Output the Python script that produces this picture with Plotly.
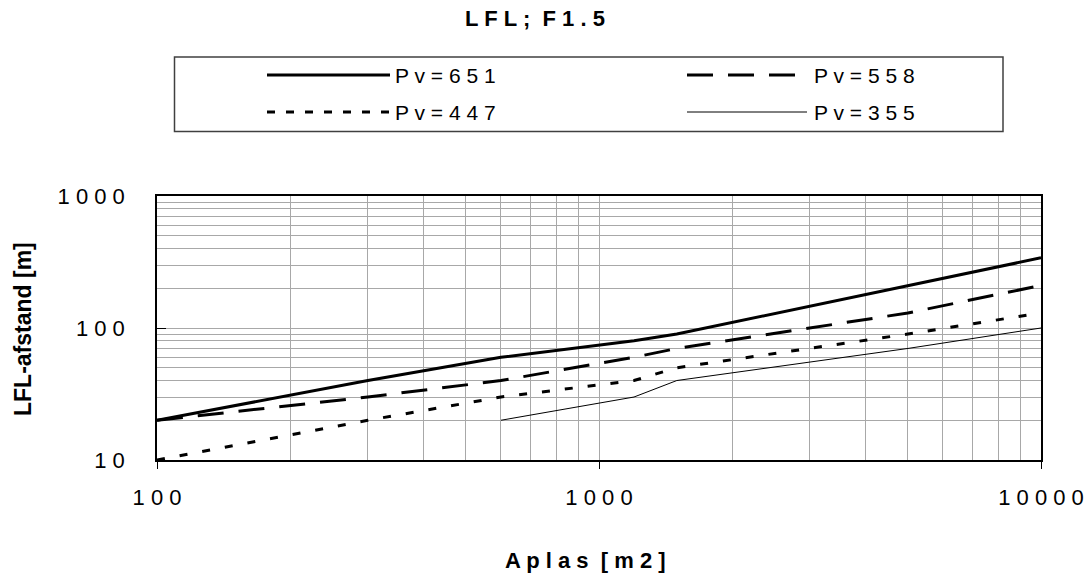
import plotly.graph_objects as go

# ---------------- data ----------------
x_651 = [100, 300, 600, 1200, 1500, 5000, 10000]
y_651 = [20, 40, 60, 80, 90, 210, 340]

x_558 = [100, 300, 600, 1200, 1500, 5000, 10000]
y_558 = [20, 30, 40, 60, 70, 130, 210]

x_447 = [100, 300, 600, 1200, 1500, 5000, 10000]
y_447 = [10, 20, 30, 40, 50, 90, 130]

x_355 = [600, 1200, 1500, 5000, 10000]
y_355 = [20, 30, 40, 70, 100]

series_names = ["P v = 6 5 1", "P v = 5 5 8", "P v = 4 4 7", "P v = 3 5 5"]
x_ticks = [100, 1000, 10000]
x_ticktext = ["1 0 0", "1 0 0 0", "1 0 0 0 0"]
y_ticks = [10, 100, 1000]
y_ticktext = ["1 0", "1 0 0", "1 0 0 0"]

title_text = "L F L ;  F 1 . 5"
x_title = "A p l a s  [ m 2 ]"
y_title = "LFL-afstand [m]"

# ---------------- layout geometry (pixels) ----------------
W, H = 1090, 579
PL, PR, PT, PB = 157, 1041, 196, 460  # plot area


def xp(px):
    return (px - PL) / (PR - PL)


def yp(py):
    return (PB - py) / (PB - PT)


FONT = "Liberation Sans, Arial, sans-serif"
GRID = "#a8a8a8"

styles = [
    dict(color="black", width=3, dash="solid"),
    dict(color="black", width=3, dash="26px,15px"),
    dict(color="black", width=3, dash="8px,15px"),
    dict(color="black", width=1, dash="solid"),
]

fig = go.Figure()
for (xs, ys), name, st in zip(
    [(x_651, y_651), (x_558, y_558), (x_447, y_447), (x_355, y_355)],
    series_names,
    styles,
):
    fig.add_trace(
        go.Scatter(x=xs, y=ys, mode="lines", name=name, line=st, showlegend=False)
    )

minor_x = [m * 10 ** e for e in (2, 3) for m in range(2, 10)]
minor_y = [m * 10 ** e for e in (1, 2) for m in range(2, 10)]

fig.update_layout(
    width=W,
    height=H,
    autosize=False,
    margin=dict(l=PL, r=W - PR, t=PT, b=H - PB, pad=0, autoexpand=False),
    paper_bgcolor="white",
    plot_bgcolor="white",
    font=dict(family=FONT, color="black", size=22),
    title=dict(
        text="<b>" + title_text + "</b>",
        x=535 / W,
        xanchor="center",
        y=1 - 18.5 / H,
        yanchor="middle",
        xref="container",
        yref="container",
        font=dict(family=FONT, size=22, color="black"),
    ),
    xaxis=dict(
        type="log",
        range=[2, 4],
        automargin=False,
        tickvals=x_ticks,
        ticktext=x_ticktext,
        ticks="outside",
        ticklen=7,
        tickcolor="black",
        tickwidth=1,
        ticklabelstandoff=10,
        showline=True,
        linecolor="black",
        linewidth=1.5,
        mirror=True,
        showgrid=True,
        gridcolor=GRID,
        gridwidth=1,
        minor=dict(tickvals=minor_x, showgrid=True, gridcolor=GRID, gridwidth=1, ticks=""),
        zeroline=False,
        tickfont=dict(family=FONT, size=22),
    ),
    yaxis=dict(
        type="log",
        range=[1, 3],
        automargin=False,
        tickvals=y_ticks,
        ticktext=y_ticktext,
        ticks="inside",
        ticklen=9,
        tickcolor="black",
        tickwidth=1,
        ticklabelstandoff=26,
        showline=True,
        linecolor="black",
        linewidth=1.5,
        mirror=True,
        showgrid=True,
        gridcolor=GRID,
        gridwidth=1,
        minor=dict(tickvals=minor_y, showgrid=True, gridcolor=GRID, gridwidth=1, ticks=""),
        zeroline=False,
        tickfont=dict(family=FONT, size=22),
    ),
)

# axis titles
fig.add_annotation(
    text="<b>" + x_title + "</b>", x=xp(585), y=yp(560), xref="paper", yref="paper",
    xanchor="center", yanchor="middle", showarrow=False,
    font=dict(family=FONT, size=22, color="black"),
)
fig.add_annotation(
    text="<b>" + y_title + "</b>", x=xp(23), y=yp(329), xref="paper", yref="paper",
    xanchor="center", yanchor="middle", showarrow=False, textangle=-90,
    font=dict(family=FONT, size=23, color="black"),
)

# legend box drawn manually (Excel-style)
fig.add_shape(
    type="rect", xref="paper", yref="paper",
    x0=xp(174.5), x1=xp(1003), y0=yp(57), y1=yp(131.5),
    line=dict(color="#404040", width=1.5), fillcolor="rgba(0,0,0,0)", layer="above",
)
legend_pos = [
    (267, 390, 75, 393),
    (687, 807, 75, 812),
    (267, 390, 112, 393),
    (687, 807, 112, 812),
]
for (x0, x1, yy, tx), name, st in zip(legend_pos, series_names, styles):
    lst = dict(st)
    if lst["dash"] == "8px,15px":
        lst["dash"] = "8px,11px"
    fig.add_shape(
        type="line", xref="paper", yref="paper",
        x0=xp(x0), x1=xp(x1), y0=yp(yy), y1=yp(yy), line=lst, layer="above",
    )
    fig.add_annotation(
        text=name, x=xp(tx), y=yp(yy), xref="paper", yref="paper",
        xanchor="left", yanchor="middle", showarrow=False,
        font=dict(family=FONT, size=21, color="black"),
    )

fig.write_html(
    "out.html",
    config={"displayModeBar": False},
    post_script="document.body.style.margin='0';document.body.style.overflow='hidden';",
)
